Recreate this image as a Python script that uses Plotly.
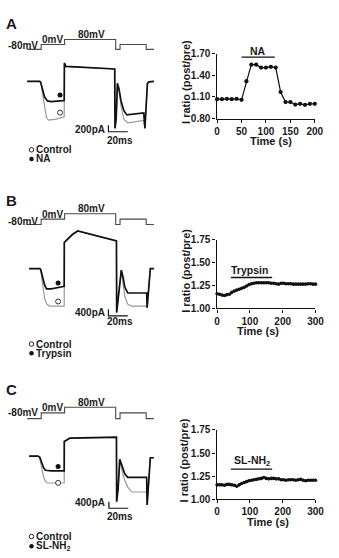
import plotly.graph_objects as go

W, H = 339, 558

# ---------------- data ----------------
# voltage protocol (ms, mV)
proto_t = [0, 14.5, 14.5, 38.7, 38.7, 91.5, 91.5, 96, 96, 123, 123, 131]
proto_mv = [-80, -80, 0, 0, 80, 80, -80, -80, 0, 0, -80, -80]

# current traces (ms, pA)
a_ctrl_t = [0, 13, 14, 16, 18, 20, 22, 30, 38.3, 38.5, 40, 90.5, 90.8, 92, 93.3, 95, 97, 100, 104, 120.5, 121.7, 124.3, 126, 131]
a_ctrl_pA = [0, 0, -30, -390, -840, -1110, -1190, -1160, -1090, 560, 460, 380, -1440, -1140, -60, -300, -750, -1170, -1270, -1200, -1440, -60, -15, 0]
a_na_t = [0, 13, 14, 16, 18, 21, 25, 37, 38.3, 38.5, 40, 90.5, 90.8, 92, 93.3, 95, 97, 100, 103, 120.5, 121.7, 124.3, 126, 131]
a_na_pA = [0, 0, -30, -270, -480, -600, -620, -590, -580, 560, 460, 380, -1440, -1140, -60, -240, -600, -900, -1030, -970, -1440, -60, -15, 0]

b_ctrl_t = [2, 13, 14, 16, 18, 20, 23, 38.3, 38.4, 42.3, 47, 52.3, 92.3, 92.5, 94, 97.3, 99, 101, 104, 108, 123.5, 124, 127.3, 131]
b_ctrl_pA = [0, 0, -100, -1000, -1800, -2150, -2300, -2300, 1600, 1800, 2100, 2300, 1700, -2700, -1900, -100, -900, -1700, -2200, -2300, -2300, -2400, 0, 0]
b_tryp_t = [2, 13, 14, 16, 18, 20, 25, 37.3, 38.3, 38.4, 42.3, 47, 52.3, 92.3, 92.5, 94, 97.3, 99, 101, 104, 123.5, 124, 127.3, 131]
b_tryp_pA = [0, 0, -60, -600, -1000, -1250, -1250, -1100, -1090, 1600, 1800, 2100, 2300, 1700, -2700, -1900, -100, -500, -1150, -1500, -1500, -2400, 0, 0]

c_ctrl_t = [2, 11, 13, 15, 17, 19, 21, 38.3, 38.4, 44, 92.3, 92.5, 94, 95.7, 98, 101, 104, 108, 123.5, 124, 127.3, 131]
c_ctrl_pA = [0, 0, -100, -700, -1300, -1550, -1650, -1650, 900, 1080, 1140, -2800, -2000, -200, -900, -1500, -1900, -2200, -2200, -3000, -100, -100]
c_sl_t = [2, 11, 13, 15, 17, 19, 25, 38.3, 38.4, 44, 92.3, 92.5, 94, 95.7, 98, 101, 104, 123.5, 124, 126.5, 127.3, 131]
c_sl_pA = [0, 0, -60, -420, -720, -870, -900, -900, 900, 1100, 1160, -2800, -2000, -200, -600, -1100, -1300, -1300, -3000, -500, -100, -100]

# marker positions on traces (ms, pA): [filled, open]
a_mark_pA = [-420, -960]
b_mark_pA = [-880, -2020]
c_mark_pA = [-640, -1640]
mark_t = [34, 32, 32]

scale_ms = 20
scale_pA = [200, 400, 400]

# current ratio time courses
a_time = [0, 10, 20, 30, 40, 50, 60, 70, 80, 90, 100, 110, 120, 130, 140, 150, 160, 170, 180, 190, 200]
a_ratio = [1.07, 1.07, 1.075, 1.07, 1.075, 1.06, 1.32, 1.55, 1.55, 1.51, 1.51, 1.52, 1.51, 1.17,
           1.03, 1.03, 0.995, 1.005, 0.99, 1.005, 1.005]
bc_time = [0, 7.5, 15, 22.5, 30, 37.5, 45, 52.5, 60, 67.5, 75, 82.5, 90, 97.5, 105, 112.5, 120, 127.5,
           135, 142.5, 150, 157.5, 165, 172.5, 180, 187.5, 195, 202.5, 210, 217.5, 225, 232.5, 240,
           247.5, 255, 262.5, 270, 277.5, 285, 292.5, 300]
b_ratio = [1.16, 1.155, 1.145, 1.14, 1.15, 1.155, 1.175, 1.19, 1.20, 1.21, 1.22, 1.23, 1.245, 1.26,
           1.27, 1.275, 1.28, 1.28, 1.28, 1.28, 1.28, 1.28, 1.275, 1.275, 1.27, 1.265, 1.275, 1.275,
           1.27, 1.27, 1.27, 1.265, 1.265, 1.265, 1.265, 1.265, 1.265, 1.27, 1.27, 1.265, 1.265]
c_ratio = [1.155, 1.155, 1.155, 1.15, 1.16, 1.16, 1.155, 1.15, 1.14, 1.155, 1.17, 1.18, 1.19, 1.20,
           1.205, 1.21, 1.215, 1.22, 1.225, 1.235, 1.225, 1.22, 1.225, 1.225, 1.22, 1.22, 1.21, 1.21,
           1.205, 1.21, 1.21, 1.21, 1.205, 1.21, 1.215, 1.205, 1.20, 1.205, 1.205, 1.205, 1.205]
a_app = [50, 118]
b_app = [42, 168]
c_app = [42, 168]

# ---------------- helpers ----------------
FONT = "Liberation Sans, Arial, sans-serif"
TXT = "#1a1a1a"


def xdom(l, r):
    return [l / W, r / W]


def ydom(top, bot):
    return [1 - bot / H, 1 - top / H]


def yrng(top, bot, ref_py, ref_val, per_px):
    return [ref_val + (ref_py - bot) * per_px, ref_val + (ref_py - top) * per_px]


fig = go.Figure()

left = [
    dict(x="x", yp="y", yc="y2", ctrl=(a_ctrl_t, a_ctrl_pA), drug=(a_na_t, a_na_pA), mk=a_mark_pA, mt=mark_t[0], sb=scale_pA[0],
         pdom=(28, 50), pref=(44.3, 16), cdom=(50, 140), cref=(77, 30), sbx=84),
    dict(x="x2", yp="y3", yc="y4", ctrl=(b_ctrl_t, b_ctrl_pA), drug=(b_tryp_t, b_tryp_pA), mk=b_mark_pA, mt=mark_t[1], sb=scale_pA[1],
         pdom=(205, 228), pref=(223.3, 14.5), cdom=(225, 325), cref=(268.3, 60), sbx=84),
    dict(x="x3", yp="y5", yc="y6", ctrl=(c_ctrl_t, c_ctrl_pA), drug=(c_sl_t, c_sl_pA), mk=c_mark_pA, mt=mark_t[2], sb=scale_pA[2],
         pdom=(402, 426), pref=(421.7, 13.7), cdom=(425, 520), cref=(460, 60), sbx=84.5),
]
sb_corner_py = [128.5, 316.7, 513.3]

layout_axes = {}
for i, p in enumerate(left):
    xk = "xaxis" + ("" if p["x"] == "x" else p["x"][1:])
    ypk = "yaxis" + ("" if p["yp"] == "y" else p["yp"][1:])
    yck = "yaxis" + p["yc"][1:]
    layout_axes[xk] = dict(domain=xdom(0, 170), range=[-26, 144], visible=False, anchor=p["yc"])
    layout_axes[ypk] = dict(domain=ydom(*p["pdom"]), range=yrng(p["pdom"][0], p["pdom"][1], p["pref"][0], -80, p["pref"][1]),
                            visible=False, anchor=p["x"])
    layout_axes[yck] = dict(domain=ydom(*p["cdom"]), range=yrng(p["cdom"][0], p["cdom"][1], p["cref"][0], 0, p["cref"][1]),
                            visible=False, anchor=p["x"])
    fig.add_trace(go.Scatter(x=proto_t, y=proto_mv, xaxis=p["x"], yaxis=p["yp"], mode="lines",
                             line=dict(color="#4a4a4a", width=1.1), hoverinfo="skip", showlegend=False))
    fig.add_trace(go.Scatter(x=p["ctrl"][0], y=p["ctrl"][1], xaxis=p["x"], yaxis=p["yc"], mode="lines",
                             line=dict(color="#9a9a9a", width=1.2), showlegend=False))
    fig.add_trace(go.Scatter(x=p["drug"][0], y=p["drug"][1], xaxis=p["x"], yaxis=p["yc"], mode="lines",
                             line=dict(color="#111111", width=1.7), showlegend=False))
    fig.add_trace(go.Scatter(x=[p["mt"]], y=[p["mk"][0]], xaxis=p["x"], yaxis=p["yc"], mode="markers",
                             marker=dict(color="#111111", size=5), showlegend=False))
    fig.add_trace(go.Scatter(x=[p["mt"]], y=[p["mk"][1]], xaxis=p["x"], yaxis=p["yc"], mode="markers",
                             marker=dict(color="white", size=5, line=dict(color="#333", width=1)), showlegend=False))
    cy = (p["cref"][0] - sb_corner_py[i]) * p["cref"][1]
    fig.add_trace(go.Scatter(x=[p["sbx"], p["sbx"], p["sbx"] + scale_ms], y=[cy + p["sb"], cy, cy],
                             xaxis=p["x"], yaxis=p["yc"], mode="lines",
                             line=dict(color="#111111", width=1.2), showlegend=False))

right = [
    dict(x="x4", y="y7", t=a_time, r=a_ratio, app=a_app, xd=(221.7, 323.3), xr=[-1.2, 200], xt=[0, 50, 100, 150, 200],
         yd=(49, 115), yr=[0.8, 1.7], yt=[0.8, 1.1, 1.4, 1.7], bar=1.655, ms=4.2),
    dict(x="x5", y="y8", t=bc_time, r=b_ratio, app=b_app, xd=(221.7, 324), xr=[-1.8, 300], xt=[0, 100, 200, 300],
         yd=(239, 309), yr=[1.0, 1.75], yt=[1.0, 1.25, 1.5, 1.75], bar=1.338, ms=3.6),
    dict(x="x6", y="y9", t=bc_time, r=c_ratio, app=c_app, xd=(221.7, 324), xr=[-1.8, 300], xt=[0, 100, 200, 300],
         yd=(433.3, 504), yr=[1.0, 1.75], yt=[1.0, 1.25, 1.5, 1.75], bar=1.326, ms=3.6),
]
tickfont = dict(family=FONT, size=10, color=TXT, weight=700)
for p in right:
    xk = "xaxis" + p["x"][1:]
    yk = "yaxis" + p["y"][1:]
    layout_axes[xk] = dict(domain=xdom(*p["xd"]), range=p["xr"], tickvals=p["xt"], anchor=p["y"],
                           showline=True, linecolor="#111", linewidth=1.4, ticks="outside", ticklen=3,
                           tickwidth=1.4, tickcolor="#111", showgrid=False, zeroline=False, tickfont=tickfont)
    layout_axes[yk] = dict(domain=ydom(*p["yd"]), range=p["yr"], tickvals=p["yt"], tickformat=".2f", anchor=p["x"],
                           showline=True, linecolor="#111", linewidth=1.4, ticks="outside", ticklen=3,
                           tickwidth=1.4, tickcolor="#111", showgrid=False, zeroline=False, tickfont=tickfont)
    fig.add_trace(go.Scatter(x=p["t"], y=p["r"], xaxis=p["x"], yaxis=p["y"], mode="lines+markers",
                             line=dict(color="#111", width=1.2), marker=dict(color="#111", size=p["ms"]),
                             showlegend=False, cliponaxis=False))
    fig.add_trace(go.Scatter(x=p["app"], y=[p["bar"], p["bar"]], xaxis=p["x"], yaxis=p["y"], mode="lines",
                             line=dict(color="#111", width=1.3), showlegend=False, cliponaxis=False))

# pixel overlay axis for legend symbols
layout_axes["xaxis7"] = dict(domain=[0, 1], range=[0, W], visible=False, anchor="y10", fixedrange=True)
layout_axes["yaxis10"] = dict(domain=[0, 1], range=[H, 0], visible=False, anchor="x7", fixedrange=True)
leg_rows = [(147, 156.3), (345.5, 355), (542.2, 552)]
fig.add_trace(go.Scatter(x=[30.5] * 3, y=[r[0] for r in leg_rows], xaxis="x7", yaxis="y10", mode="markers",
                         marker=dict(color="white", size=4.5, line=dict(color="#222", width=1)),
                         showlegend=False, hoverinfo="skip", cliponaxis=False))
fig.add_trace(go.Scatter(x=[30.5] * 3, y=[r[1] for r in leg_rows], xaxis="x7", yaxis="y10", mode="markers",
                         marker=dict(color="#111", size=4.5), showlegend=False, hoverinfo="skip", cliponaxis=False))

annotations = []


def txt(x, y, s, size=10, xanchor="center", angle=0):
    annotations.append(dict(x=x / W, y=1 - y / H, xref="paper", yref="paper", text=s, showarrow=False,
                            xanchor=xanchor, yanchor="middle", textangle=angle,
                            font=dict(family=FONT, size=size, color=TXT, weight=700)))


txt(9.5, 18.3, "A", 15)
txt(9.5, 198.7, "B", 15)
txt(9.5, 391.7, "C", 15)

for (a, b, c) in [(40.7, 34.3, 29.3), (220, 213.3, 207.3), (415, 410.7, 405)]:
    txt(22, a, "-80mV", 10)
    txt(52.5, b, "0mV", 10)
    txt(92, c, "80mV", 10)

for lab, ypa, yms in [("200pA", 126.7, 137), ("400pA", 313.3, 322.5), ("400pA", 507.3, 521.7)]:
    txt(108.5, ypa, lab, 10, xanchor="right")
    txt(122, yms, "20ms", 10)

for (y1, y2), name in zip(leg_rows, ["NA", "Trypsin", "SL-NH<sub>2</sub>"]):
    txt(33, y1, "Control", 10, xanchor="left")
    txt(33, y2, name, 10, xanchor="left")

for (xt, yt), (xx, yx) in [((190, 77.8), (277.7, 138.3)), ((190, 270.8), (264.7, 331.7)), ((188.5, 464), (275, 527.5))]:
    txt(xt, yt, "I ratio (post/pre)", 11, angle=-90)
    txt(xx, yx, "Time (s)", 11)

txt(265, 45.5, "NA", 10.5)
txt(256, 270, "Trypsin", 10.5)
txt(258, 464.7, "SL-NH<sub>2</sub>", 10.5)

fig.update_layout(width=W, height=H, margin=dict(l=0, r=0, t=0, b=0), paper_bgcolor="white",
                  plot_bgcolor="rgba(0,0,0,0)", showlegend=False, annotations=annotations, **layout_axes)

fig.write_html("out.html")
